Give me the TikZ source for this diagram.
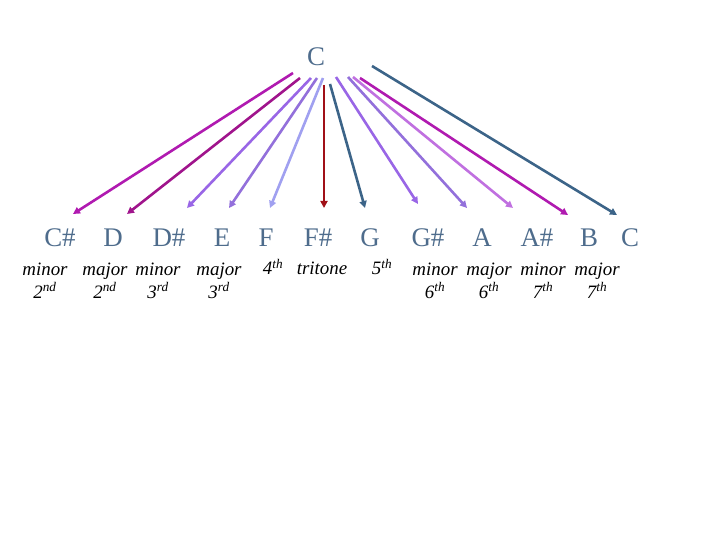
\documentclass[tikz,border=0pt]{standalone}
\usepackage{fontspec}
\setmainfont{Liberation Serif}
\usetikzlibrary{arrows.meta}

\definecolor{noteblue}{HTML}{4E6C8C}
\definecolor{orchidA}{HTML}{B01AB0}
\definecolor{plumA}{HTML}{A0148C}
\definecolor{purpleA}{HTML}{9966E6}
\definecolor{purpleB}{HTML}{9370DB}
\definecolor{lavA}{HTML}{A0A0F0}
\definecolor{redA}{HTML}{A01018}
\definecolor{slateA}{HTML}{3C6488}
\definecolor{orchidB}{HTML}{C070E0}

\tikzset{
  note/.style={anchor=base, text=noteblue, font=\fontsize{27}{30}\selectfont, inner sep=0pt},
  kind/.style={anchor=base, align=center, font=\fontsize{19}{23}\selectfont\itshape, inner sep=0pt},
  interval/.style={line width=2.6bp, -{Triangle[length=7bp,width=7bp]}},
}

\begin{document}
\begin{tikzpicture}[x=1bp, y=-1bp]
    \useasboundingbox (0,0) rectangle (720,540);

    % root and the twelve notes
    \node[note] (nRoot) at (316,66) {C};
    \node[note] (nCs) at (60,247) {C\#};
    \node[note] (nD)  at (113,247) {D};
    \node[note] (nDs) at (169,247) {D\#};
    \node[note] (nE)  at (222,247) {E};
    \node[note] (nF)  at (266,247) {F};
    \node[note] (nFs) at (318,247) {F\#};
    \node[note] (nG)  at (370,247) {G};
    \node[note] (nGs) at (428,247) {G\#};
    \node[note] (nA)  at (482,247) {A};
    \node[note] (nAs) at (537,247) {A\#};
    \node[note] (nB)  at (589,247) {B};
    \node[note] (nC)  at (630,247) {C};

    % interval names (two-line ones sit on the base of their last line)
    \node[kind] (kCs) at (45,298)  {minor\\2\textsuperscript{nd}};
    \node[kind] (kD)  at (105,298) {major\\2\textsuperscript{nd}};
    \node[kind] (kDs) at (158,298) {minor\\3\textsuperscript{rd}};
    \node[kind] (kE)  at (219,298) {major\\3\textsuperscript{rd}};
    \node[kind] (kF)  at (273,275) {4\textsuperscript{th}};
    \node[kind] (kFs) at (322,275) {tritone};
    \node[kind] (kG)  at (382,275) {5\textsuperscript{th}};
    \node[kind] (kGs) at (435,298) {minor\\6\textsuperscript{th}};
    \node[kind] (kA)  at (489,298) {major\\6\textsuperscript{th}};
    \node[kind] (kAs) at (543,298) {minor\\7\textsuperscript{th}};
    \node[kind] (kB)  at (597,298) {major\\7\textsuperscript{th}};

    % arrow ends
    \coordinate (sCs) at (293,73);  \coordinate (tCs) at (73,214);
    \coordinate (sD)  at (300,78);  \coordinate (tD)  at (127,214);
    \coordinate (sDs) at (311,78);  \coordinate (tDs) at (187,208);
    \coordinate (sE)  at (317,78);  \coordinate (tE)  at (229,208);
    \coordinate (sF)  at (323,78);  \coordinate (tF)  at (270,208);
    \coordinate (sFs) at (324,85);  \coordinate (tFs) at (324,208);
    \coordinate (sG)  at (330,84);  \coordinate (tG)  at (365,208);
    \coordinate (sGs) at (336,77);  \coordinate (tGs) at (418,204);
    \coordinate (sA)  at (348,77);  \coordinate (tA)  at (467,208);
    \coordinate (sAs) at (353,77);  \coordinate (tAs) at (513,208);
    \coordinate (sB)  at (360,78);  \coordinate (tB)  at (568,215);
    \coordinate (sC)  at (372,66);  \coordinate (tC)  at (617,215);

    \draw[interval, orchidA] (sCs) -- (tCs);
    \draw[interval, plumA]   (sD)  -- (tD);
    \draw[interval, purpleA] (sDs) -- (tDs);
    \draw[interval, purpleB] (sE)  -- (tE);
    \draw[interval, lavA]    (sF)  -- (tF);
    \draw[interval, redA, line width=2bp] (sFs) -- (tFs);
    \draw[interval, slateA]  (sG)  -- (tG);
    \draw[interval, purpleA] (sGs) -- (tGs);
    \draw[interval, purpleB] (sA)  -- (tA);
    \draw[interval, orchidB] (sAs) -- (tAs);
    \draw[interval, orchidA] (sB)  -- (tB);
    \draw[interval, slateA]  (sC)  -- (tC);
  \end{tikzpicture}
\end{document}
